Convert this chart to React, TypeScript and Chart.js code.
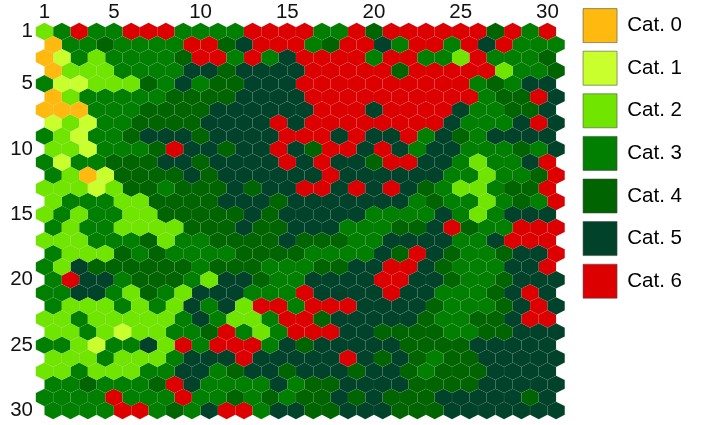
import React, { useEffect, useRef } from "react";
import { Chart, registerables, ScatterController, PointElement } from "chart.js";

Chart.register(...registerables);

const categoryNames = ["Cat. 0", "Cat. 1", "Cat. 2", "Cat. 3", "Cat. 4", "Cat. 5", "Cat. 6"];
const categoryColors = ["#FFB90F", "#CAFF2E", "#70E500", "#007F00", "#006400", "#00432A", "#DD0000"];
const xTicks = [1, 5, 10, 15, 20, 25, 30];
const yTicks = [1, 5, 10, 15, 20, 25, 30];

const grid = [
  [2,3,6,3,3,6,6,6,3,3,3,3,6,6,6,6,3,3,6,4,6,6,6,6,6,6,4,6,3,6],
  [0,3,3,4,3,3,3,3,6,6,4,5,6,6,6,3,4,6,6,5,3,6,6,3,6,5,6,3,3,3],
  [0,1,3,2,3,3,3,3,4,6,6,3,6,3,5,6,6,6,6,3,6,6,3,3,2,6,3,3,3,4],
  [0,2,2,2,3,3,3,3,5,5,4,5,5,5,5,6,6,6,6,6,4,6,6,6,6,6,2,3,3,4],
  [3,1,1,2,2,2,4,3,5,3,4,4,5,5,5,6,6,6,6,6,6,6,6,6,6,3,4,3,5,5],
  [0,2,3,3,3,3,3,4,4,4,4,5,5,5,5,6,6,6,6,6,6,6,6,6,6,3,4,4,6,5],
  [0,0,0,3,3,3,4,4,4,4,5,5,5,5,5,5,6,6,6,5,6,6,6,6,5,3,3,4,4,5],
  [1,2,1,3,3,4,4,4,4,5,5,5,5,6,5,6,6,6,6,6,6,6,6,5,3,3,3,5,6,5],
  [3,2,1,3,3,4,5,5,5,4,5,5,5,5,6,6,6,5,6,5,5,6,3,5,4,3,5,5,5,5],
  [2,2,1,3,3,3,4,6,5,5,4,5,5,6,5,4,6,6,5,6,5,3,5,5,3,3,3,4,3,5],
  [3,1,3,3,4,4,4,5,5,4,5,5,5,5,6,5,6,5,5,4,6,6,5,5,3,2,3,3,5,6],
  [3,2,0,1,4,4,4,4,5,4,5,5,5,5,5,5,6,5,5,5,5,5,5,3,3,2,3,3,4,6],
  [2,2,2,1,2,4,4,3,4,4,4,5,4,5,5,6,6,5,6,5,6,5,4,3,2,2,3,4,4,6],
  [2,3,3,3,2,2,4,4,4,4,5,5,5,4,5,5,5,5,5,5,5,3,4,3,3,2,3,4,3,6],
  [2,3,2,3,3,2,2,4,4,4,4,4,5,4,5,5,5,5,5,3,3,3,3,5,3,2,3,5,5,5],
  [3,2,3,3,2,2,2,2,4,4,4,5,4,4,5,5,5,3,3,3,4,4,5,6,4,3,3,6,6,6],
  [2,2,2,3,3,3,4,2,3,3,4,4,4,4,5,4,4,4,3,3,5,5,5,5,3,3,5,6,6,6],
  [3,2,2,2,4,3,4,3,3,3,3,4,4,4,4,3,3,3,3,5,4,6,5,4,3,3,4,5,5,6],
  [3,2,5,4,4,4,4,4,4,3,4,4,4,3,3,3,4,4,5,5,6,6,5,4,3,3,3,5,5,6],
  [3,6,5,5,3,4,4,4,3,2,5,5,4,3,3,5,5,5,5,6,6,5,5,4,3,3,4,5,5,5],
  [3,3,5,5,3,2,4,3,2,5,5,5,3,3,3,6,5,5,5,5,6,5,5,3,3,3,4,5,6,5],
  [3,2,2,2,3,2,3,2,5,3,5,2,6,6,3,6,6,6,5,5,5,5,4,3,3,3,4,5,6,5],
  [2,2,3,2,2,2,2,2,3,5,3,2,2,3,6,6,4,5,5,5,5,5,4,3,3,4,4,5,6,6],
  [2,2,3,2,1,2,2,3,3,4,6,3,2,3,6,6,6,5,5,4,4,4,4,3,3,4,4,5,5,5],
  [3,3,2,1,3,3,5,2,6,3,6,6,6,3,5,4,5,5,5,5,5,4,4,4,4,5,5,5,5,5],
  [2,2,2,3,2,2,2,3,5,5,5,6,5,5,5,5,5,6,5,4,5,4,3,4,4,5,5,5,5,5],
  [2,2,3,2,2,2,3,3,5,5,3,4,5,5,4,5,5,5,4,5,5,4,3,4,4,4,5,5,5,5],
  [3,3,4,3,3,3,4,6,5,3,3,3,3,5,3,4,4,5,5,5,5,4,4,4,4,5,5,5,5,5],
  [3,3,3,3,6,3,3,3,6,3,3,4,3,4,3,4,4,5,4,5,4,4,4,5,5,5,5,5,4,5],
  [3,3,3,3,6,6,3,4,3,5,6,6,3,5,5,4,4,5,5,5,4,4,4,5,5,5,5,5,5,5],
];

class HexPoint extends PointElement {
  static id = "hexPoint";
  static defaults = { ...PointElement.defaults, hexHalfWidth: 8.67 };
  draw(ctx: CanvasRenderingContext2D) {
    const { x, y } = this.getProps(["x", "y"], true) as any;
    const o = (this as any).options;
    const hw = o.hexHalfWidth;
    const hh = o.radius;
    ctx.beginPath();
    ctx.moveTo(x, y - hh);
    ctx.lineTo(x + hw, y - hh / 2);
    ctx.lineTo(x + hw, y + hh / 2);
    ctx.lineTo(x, y + hh);
    ctx.lineTo(x - hw, y + hh / 2);
    ctx.lineTo(x - hw, y - hh / 2);
    ctx.closePath();
    ctx.fillStyle = o.backgroundColor;
    ctx.fill();
    ctx.lineWidth = o.borderWidth;
    ctx.strokeStyle = o.borderColor;
    ctx.stroke();
  }
}

class HexController extends ScatterController {
  static id = "hex";
  static defaults = { dataElementType: "hexPoint" };
}

Chart.register(HexPoint as any, HexController as any);

function pointsFor(cat: number) {
  const pts: { x: number; y: number }[] = [];
  grid.forEach((row, r) =>
    row.forEach((v, c) => {
      if (v === cat) pts.push({ x: c + 1 + (r % 2 === 1 ? 0.5 : 0), y: r + 1 });
    })
  );
  return pts;
}

const FONT = "'Liberation Sans', Arial, sans-serif";

export default function App() {
  const ref = useRef<HTMLCanvasElement>(null);
  useEffect(() => {
    const chart = new Chart(ref.current!, {
      type: "hex" as any,
      data: {
        datasets: categoryNames.map((name, i) => ({
          label: name,
          data: pointsFor(i),
          backgroundColor: categoryColors[i],
          borderColor: "rgba(170,170,170,0.1)",
          borderWidth: 0.7,
          radius: 8.72,
          clip: false,
        })) as any,
      },
      options: {
        responsive: false,
        animation: false,
        layout: { padding: { right: 16, left: 0, top: 0, bottom: 0 } },
        scales: {
          x: {
            type: "linear",
            position: "top",
            min: 0.51,
            max: 31.56,
            grid: { display: false, drawTicks: false },
            border: { display: false },
            afterFit: (s: any) => { s.height = 25; s.paddingLeft = 0; s.paddingRight = 0; },
            afterBuildTicks: (s: any) => { s.ticks = xTicks.map((value) => ({ value })); },
            ticks: { autoSkip: false, maxRotation: 0, padding: 0, color: "#111", font: { family: FONT, size: 20.5 } },
          },
          y: {
            type: "linear",
            position: "left",
            reverse: true,
            min: 0.5,
            max: 30.39,
            grid: { display: false, drawTicks: false },
            border: { display: false },
            afterFit: (s: any) => { s.width = 36; s.paddingTop = 0; s.paddingBottom = 0; },
            afterBuildTicks: (s: any) => { s.ticks = yTicks.map((value) => ({ value })); },
            ticks: { autoSkip: false, padding: 3, color: "#111", font: { family: FONT, size: 20.5 } },
          },
        },
        plugins: {
          tooltip: { enabled: false },
          legend: {
            position: "right",
            align: "start",
            labels: {
              boxWidth: 34,
              boxHeight: 34,
              padding: 8.6,
              color: "#111",
              font: { family: FONT, size: 20.5 },
              generateLabels: () =>
                categoryNames.map((text, i) => ({
                  text,
                  fillStyle: categoryColors[i],
                  strokeStyle: "rgba(70,70,70,0.55)",
                  lineWidth: 1,
                  datasetIndex: i,
                  hidden: false,
                })),
            },
          },
        },
      } as any,
    });
    return () => chart.destroy();
  }, []);
  return <canvas ref={ref} width={708} height={425} style={{ position: "absolute", left: 0, top: 0 }} />;
}
